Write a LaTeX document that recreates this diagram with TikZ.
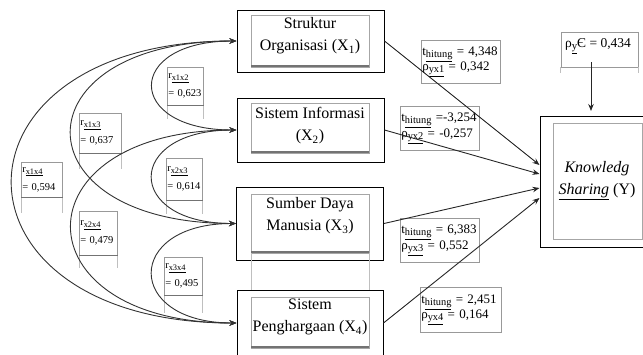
\documentclass[tikz,border=0pt]{standalone}
\usepackage{fontspec}
\setmainfont{Liberation Serif}
\usetikzlibrary{arrows.meta,calc}
\newcommand\lsub[1]{\raisebox{-0.35ex}{\scalebox{0.8}{\underline{#1}}}}
\begin{document}
\begin{tikzpicture}[x=1pt,y=-1pt,
  outerbox/.style={draw=black,line width=1pt,inner sep=0pt},
  innerbox/.style={draw=black!35,line width=0.8pt},
  innerbase/.style={draw=black!55,line width=1.6pt},
  ghost/.style={draw=black!25,line width=0.7pt},
  maintext/.style={font=\fontsize{16}{22}\selectfont,align=center,inner sep=0pt},
  lab/.style={draw=black!40,line width=0.6pt,anchor=north west,align=left,inner sep=1pt},
  rlab/.style={lab,font=\fontsize{10.5}{18}\selectfont},
  tlab/.style={lab,font=\fontsize{13}{15.5}\selectfont},
  conn/.style={draw=black!85,line width=0.9pt,-{Stealth[length=7pt,width=5.5pt]}},
  corr/.style={draw=black!80,line width=0.9pt,{Stealth[length=7pt,width=5.5pt]}-{Stealth[length=7pt,width=5.5pt]}},
]
\useasboundingbox (0,0) rectangle (643,354);

% main boxes
\node[outerbox,minimum width=147pt,minimum height=62pt] (X1) at (310.5,41) {};
\node[outerbox,minimum width=147pt,minimum height=64pt] (X2) at (310.5,130) {};
\node[outerbox,minimum width=147pt,minimum height=73pt] (X3) at (310,223.5) {};
\node[outerbox,minimum width=146pt,minimum height=66pt] (X4) at (310,323) {};
\node[outerbox,minimum width=108pt,minimum height=131pt] (Y) at (594,181.5) {};

% inner boxes
\draw[innerbox] (251,15) rectangle (369,67);
\draw[innerbase] (251,66) -- (369,66);
\draw[innerbox] (251,103) rectangle (369,153);
\draw[innerbase] (251,152) -- (369,152);
\draw[innerbox] (251,194) rectangle (369,253);
\draw[innerbase] (251,252) -- (369,252);
\draw[ghost] (251,253) -- (251,290) (369,253) -- (369,290);
\draw[innerbox] (251,297) rectangle (369,348);
\draw[innerbase] (251,347) -- (369,347);
\draw[innerbox] (553,123) rectangle (642,239);

% main texts
\node[maintext] (X1t) at (310,36) {Struktur\\Organisasi (X\textsubscript{1})};
\node[maintext] (X2t) at (310,126) {Sistem Informasi\\(X\textsubscript{2})};
\node[maintext] (X3t) at (310,216) {Sumber Daya\\Manusia (X\textsubscript{3})};
\node[maintext] (X4t) at (310,317) {Sistem\\Penghargaan (X\textsubscript{4})};
\node[maintext] (Yt) at (597,181) {\itshape Knowledg\\\underline{\itshape Sharing} \upshape(Y)};

% epsilon
\node[draw=black!40,line width=0.6pt,minimum width=77pt,minimum height=35pt,inner sep=0pt] (eps) at (599.5,49.5) {};
\draw[ghost] (eps.south west) -- ++(0,6) (eps.south east) -- ++(0,6);
\node[font=\fontsize{13.5}{15}\selectfont,inner sep=0pt] (epst) at (598,46) {ρ\lsub{y}Є = 0,434};
\coordinate (epsA) at (591,62);
\coordinate (Ytop) at (591,111);
\draw[conn] (epsA) -- (Ytop);

% t labels
\node[tlab,text width=77pt,minimum height=43pt] (t1) at (421,40) {t\lsub{hitung} = 4,348\\ρ\lsub{yx1} = 0,342};
\node[tlab,text width=77pt,minimum height=44pt] (t2) at (400,106) {t\lsub{hitung} =-3,254\\ρ\lsub{yx2} = -0,257};
\node[tlab,text width=77pt,minimum height=44pt] (t3) at (400,218) {t\lsub{hitung} = 6,383\\ρ\lsub{yx3} = 0,552};
\node[tlab,text width=79pt,minimum height=45pt] (t4) at (420,287) {t\lsub{hitung} = 2,451\\ρ\lsub{yx4} = 0,164};

% r labels
\node[rlab,text width=34pt,minimum height=38pt] (r12) at (167,67) {r\lsub{x1x2}\\= 0,623};
\node[rlab,text width=40pt,minimum height=40pt] (r13) at (79,113) {r\lsub{x1x3}\\= 0,637};
\node[rlab,text width=39pt,minimum height=35pt] (r14) at (21,162) {r\lsub{x1x4}\\= 0,594};
\node[rlab,text width=34pt,minimum height=42pt] (r23) at (166,158) {r\lsub{x2x3}\\= 0,614};
\node[rlab,text width=36pt,minimum height=44pt] (r24) at (79,211) {r\lsub{x2x4}\\= 0,479};
\node[rlab,text width=36pt,minimum height=38pt] (r34) at (164,257) {r\lsub{x3x4}\\= 0,495};
\foreach \r/\e in {r12/13,r13/15,r14/15,r23/13,r24/12,r34/17}{
  \draw[ghost] (\r.south west) -- ++(0,\e) (\r.south east) -- ++(0,\e);
  \draw[draw=black!55,line width=1pt] (\r.south west) -- (\r.south east);
}

% paths to Y
\draw[conn] (X1.east) -- ($(Y.west)+(0,-16.5)$);
\draw[conn] (X2.east) -- ($(Y.west)+(0,-7.5)$);
\draw[conn] (X3.east) -- ($(Y.west)+(0,6.5)$);
\draw[conn] (X4.east) -- ($(Y.west)+(0,16.5)$);

% correlations
\draw[corr] (X1.west) .. controls +(-112,0) and +(-112,0) .. (X2.west);
\draw[corr] (X2.west) .. controls +(-112,0) and +(-112,0) .. (X3.west);
\draw[corr] (X3.west) .. controls +(-112,0) and +(-112,0) .. (X4.west);
\draw[corr] (X1.west) .. controls +(-220,0) and +(-220,0) .. (X3.west);
\draw[corr] (X2.west) .. controls +(-220,0) and +(-220,0) .. (X4.west);
\draw[corr] (X1.west) .. controls +(-299,0) and +(-299,0) .. (X4.west);
\end{tikzpicture}
\end{document}
